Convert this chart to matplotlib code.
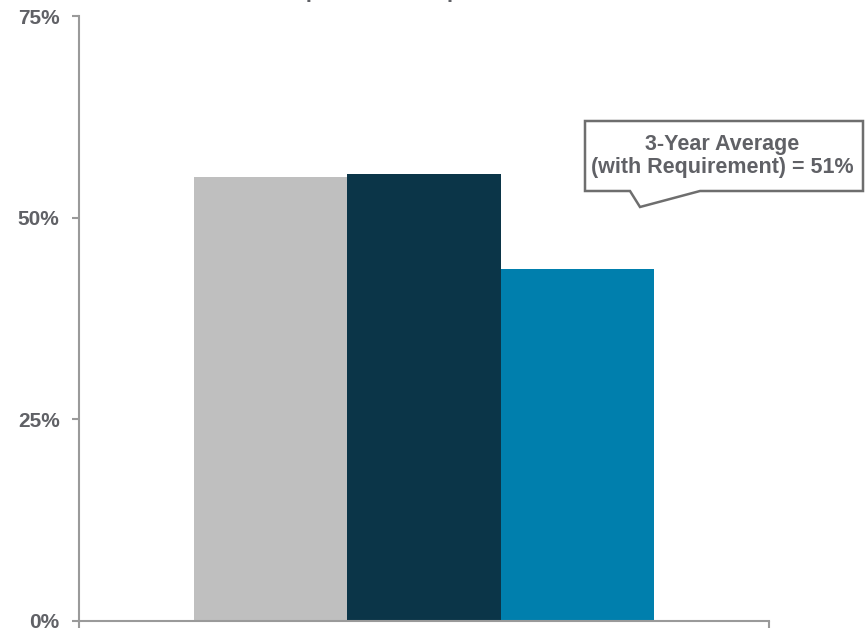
import matplotlib
matplotlib.use("Agg")
import matplotlib.pyplot as plt
from matplotlib.patches import Polygon
from matplotlib.ticker import FixedLocator

plt.rcParams['font.family'] = ['Liberation Sans', 'DejaVu Sans']

# Data
series_names = ["Year 1", "Year 2", "Year 3"]
values = [55.0, 55.4, 43.6]
colors = ["#BFBFBF", "#0B3548", "#007FAD"]
y_ticks = [0, 25, 50, 75]
y_tick_labels = ["0%", "25%", "50%", "75%"]
title = "Option Requirement"
callout_text = "3-Year Average\n(with Requirement) = 51%"

W, H = 867, 631
fig = plt.figure(figsize=(W / 100, H / 100), dpi=100)
ax = fig.add_axes([79 / W, 1 - 621 / H, 690 / W, 605 / H])

bar_w = 0.222
offsets = [-bar_w, 0.0, bar_w]
for off, v, c in zip(offsets, values, colors):
    ax.bar(off, v, width=bar_w, color=c, linewidth=0)

ax.set_xlim(-0.5, 0.5)
ax.set_ylim(0, 75)

axis_gray = "#9A9A9A"
text_gray = "#606166"
for s in ["top", "right"]:
    ax.spines[s].set_visible(False)
for s in ["left", "bottom"]:
    ax.spines[s].set_color(axis_gray)
    ax.spines[s].set_linewidth(1.5)

ax.set_yticks(y_ticks)
ax.set_yticklabels(y_tick_labels, fontsize=15, fontweight="bold", color=text_gray)
ax.tick_params(axis="y", direction="out", length=5, width=1.5, color=axis_gray, pad=9)

ax.set_xticks([])
ax.xaxis.set_minor_locator(FixedLocator([-0.5, 0.5]))
ax.tick_params(axis="x", which="minor", direction="out", length=5, width=1.5, color=axis_gray)

# Title, mostly above the top edge of the figure
fig.text(433 / W, 1 + 5 / H, title, ha="center", va="baseline",
         fontsize=25, color=text_gray)

# Callout box with pointer
def fpt(x, y):
    return (x / W, 1 - y / H)

callout = [fpt(585, 121), fpt(863, 121), fpt(863, 191), fpt(700, 191),
           fpt(640, 207), fpt(630, 191), fpt(585, 191)]
fig.patches.append(Polygon(callout, closed=True, transform=fig.transFigure,
                           facecolor="white", edgecolor="#6E6E6E",
                           linewidth=1.8, joinstyle="miter"))
fig.text(722 / W, 1 - 156 / H, callout_text, ha="center", va="center",
         fontsize=15.5, fontweight="bold", color=text_gray, linespacing=1.1)

fig.savefig("out.png", dpi=100)
